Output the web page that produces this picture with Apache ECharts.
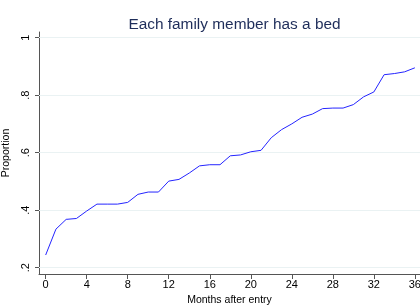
<!DOCTYPE html>
<html>
<head>
<meta charset="UTF-8">
<title>Each family member has a bed</title>
<script src="https://cdn.jsdelivr.net/npm/echarts@6/dist/echarts.min.js"></script>
<style>
  html, body { margin: 0; padding: 0; background: #fff; }
  #chart { width: 420px; height: 305px; }
</style>
</head>
<body>
<div id="chart"></div>
<script>
// months after entry
var months = [0,1,2,3,4,5,6,7,8,9,10,11,12,13,14,15,16,17,18,
              19,20,21,22,23,24,25,26,27,28,29,30,31,32,33,34,35,36];
// proportion with a bed for every family member
var proportion = [0.244,0.334,0.368,0.371,0.397,0.421,0.421,0.421,0.427,0.455,
                  0.463,0.463,0.501,0.507,0.529,0.554,0.558,0.558,0.589,0.592,
                  0.603,0.608,0.652,0.680,0.700,0.723,0.734,0.753,0.755,0.755,
                  0.767,0.794,0.811,0.871,0.875,0.881,0.895];
var xTicks = [0,4,8,12,16,20,24,28,32,36];
var yTicks = [0.2,0.4,0.6,0.8,1];

var chart = echarts.init(document.getElementById('chart'));
var font = 'Liberation Sans, Arial, sans-serif';

var option = {
    animation: false,
    title: {
        text: 'Each family member has a bed',
        left: 229.5, top: 12, textAlign: 'center',
        textStyle: { fontFamily: font, fontSize: 15.4, fontWeight: 'normal', color: '#1e2d5a' }
    },
    grid: { left: 39, right: 0, top: 32, bottom: 31, outerBoundsMode: 'none', containLabel: false },
    xAxis: {
        type: 'value', min: -0.65, max: 36.5,
        name: 'Months after entry', nameLocation: 'middle', nameGap: 20,
        nameTextStyle: { fontFamily: font, fontSize: 10.5, color: '#000' },
        axisLine: { onZero: false, lineStyle: { color: '#555', width: 1 } },
        axisTick: { customValues: xTicks, length: 5, lineStyle: { color: '#555' } },
        axisLabel: {
            customValues: xTicks, margin: 5,
            fontFamily: font, fontSize: 11, color: '#000',
            showMinLabel: true, showMaxLabel: true
        },
        splitLine: { show: false }
    },
    yAxis: {
        type: 'value', min: 0.178, max: 1.0195,
        name: 'Proportion', nameLocation: 'middle', nameGap: 20, nameRotate: 90,
        nameTextStyle: { fontFamily: font, fontSize: 10.5, color: '#000' },
        axisLine: { show: true, onZero: false, lineStyle: { color: '#555', width: 1 } },
        axisTick: { show: true, customValues: yTicks, length: 4, lineStyle: { color: '#555' } },
        axisLabel: {
            customValues: yTicks, rotate: 90, margin: 8,
            fontFamily: font, fontSize: 11, color: '#000',
            formatter: function (v) { return String(v).replace(/^0/, ''); }
        },
        splitLine: { show: false }
    },
    series: [{
        type: 'line',
        data: months.map(function (m, i) { return [m, proportion[i]]; }),
        showSymbol: false,
        lineStyle: { color: '#2424ff', width: 1 },
        itemStyle: { color: '#2424ff' },
        markLine: {
            silent: true, symbol: 'none', label: { show: false },
            lineStyle: { color: '#eaf2f3', width: 1, type: 'solid' },
            data: yTicks.map(function (v) { return { yAxis: v }; }),
            z: 1
        },
        z: 3
    }]
};
chart.setOption(option);
</script>
</body>
</html>
